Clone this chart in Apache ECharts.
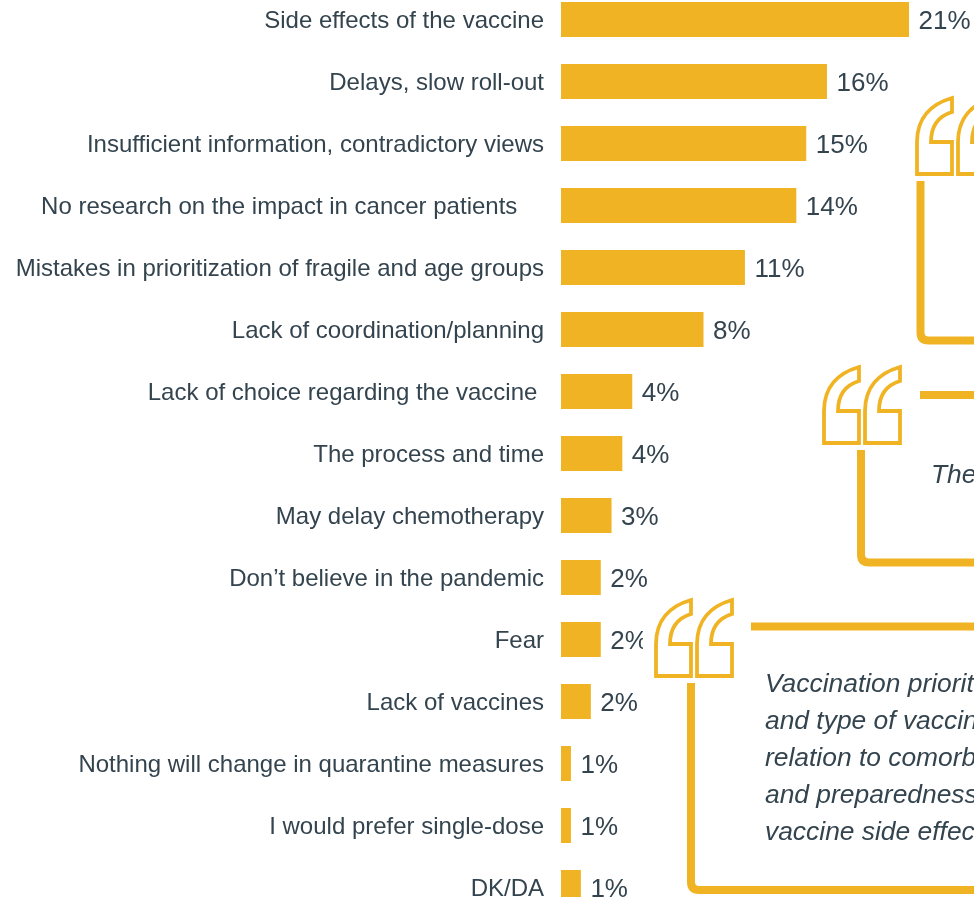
<!DOCTYPE html>
<html><head><meta charset="utf-8">
<style>html,body{margin:0;padding:0;background:#fff;overflow:hidden}#c{width:974px;height:897px}</style>
<script src="https://cdn.jsdelivr.net/npm/echarts@6/dist/echarts.min.js"></script>
</head><body><div id="c"></div>
<script>
const categories = ["Side effects of the vaccine","Delays, slow roll-out","Insufficient information, contradictory views","No research on the impact in cancer patients\u00a0\u00a0\u00a0\u00a0","Mistakes in prioritization of fragile and age groups","Lack of coordination/planning","Lack of choice regarding the vaccine\u00a0","The process and time","May delay chemotherapy","Don’t believe in the pandemic","Fear","Lack of vaccines","Nothing will change in quarantine measures","I would prefer single-dose","DK/DA"];
const values = [21.0,16.05,14.8,14.2,11.1,8.6,4.3,3.7,3.05,2.4,2.4,1.8,0.6,0.6,1.2];
const valueLabels = ["21%","16%","15%","14%","11%","8%","4%","4%","3%","2%","2%","2%","1%","1%","1%"];
const quoteLines = ["Vaccination priorit","and type of vaccin","relation to comorb","and preparedness","vaccine side effec"];
const quoteShort = "The";
const gold = "#F0B323", ink = "#34444F";
function quoteGlyph(x,y){
  const P=(a,b)=>(x+a)+' '+(y+b);
  return {type:'path',shape:{pathData:`M${P(0,76)} L${P(0,44)} C${P(0,20)} ${P(14,6)} ${P(35,0)} L${P(35,14)} C${P(22,18)} ${P(14,28)} ${P(14,44)} L${P(35,44)} L${P(35,76)} Z`,x:x,y:y,width:35,height:76},
    style:{fill:'#fff',stroke:gold,lineWidth:3.8}};
}
function quote(x,y){return [quoteGlyph(x,y),quoteGlyph(x+41,y)];}
function frame(x,y1,y2,x2){
  return {type:'path',shape:{pathData:`M${x} ${y1} L${x} ${y2-8} Q${x} ${y2} ${x+8} ${y2} L${x2} ${y2}`,x:x,y:y1,width:x2-x,height:y2-y1},
    style:{fill:null,stroke:gold,lineWidth:8}};
}
function bar(x1,x2,y){return {type:'line',shape:{x1,y1:y,x2,y2:y},style:{stroke:gold,lineWidth:8}};}
const decor=[
 {type:'rect',shape:{x:643,y:620,width:12,height:40},style:{fill:'#fff'}},
 ...quote(917,98),...quote(824,367),...quote(656,600),
 frame(920.5,181,340.5,980), bar(920,980,395),
 frame(861,450,562.5,980), bar(751,980,626.5),
 frame(691,683,890,980)
];
const textStyle=t=>({text:t,font:'italic 26.4px "Liberation Sans"',fill:ink,textVerticalAlign:'middle'});
const chart=echarts.init(document.getElementById('c'));
chart.setOption({
 animation:false,
 grid:{left:561,top:-11.5,width:348,height:930,outerBoundsMode:'none'},
 xAxis:{type:'value',min:0,max:21,show:false},
 yAxis:{type:'category',inverse:true,data:categories,axisLine:{show:false},axisTick:{show:false},
  axisLabel:{margin:17,interval:0,formatter:'{a|{value}}',rich:{a:{color:ink,fontFamily:'Liberation Sans',fontSize:24,padding:[3,0,0,0]}}}},
 series:[
  {type:'bar',data:values,barWidth:35,itemStyle:{color:gold},clip:false,
   label:{show:true,position:'right',distance:9.5,offset:[0,2],color:ink,fontFamily:'Liberation Sans',fontSize:26,formatter:p=>valueLabels[p.dataIndex]}},
  {type:'custom',coordinateSystem:'none',z:10,silent:true,data:[[0]],renderItem:()=>({type:'group',children:decor})}
 ],
 graphic:[
  {type:'text',x:931,y:476,style:textStyle(quoteShort),z:20},
  ...quoteLines.map((t,i)=>({type:'text',x:765,y:685+i*36.8,style:textStyle(t),z:20}))
 ]
});
</script></body></html>
